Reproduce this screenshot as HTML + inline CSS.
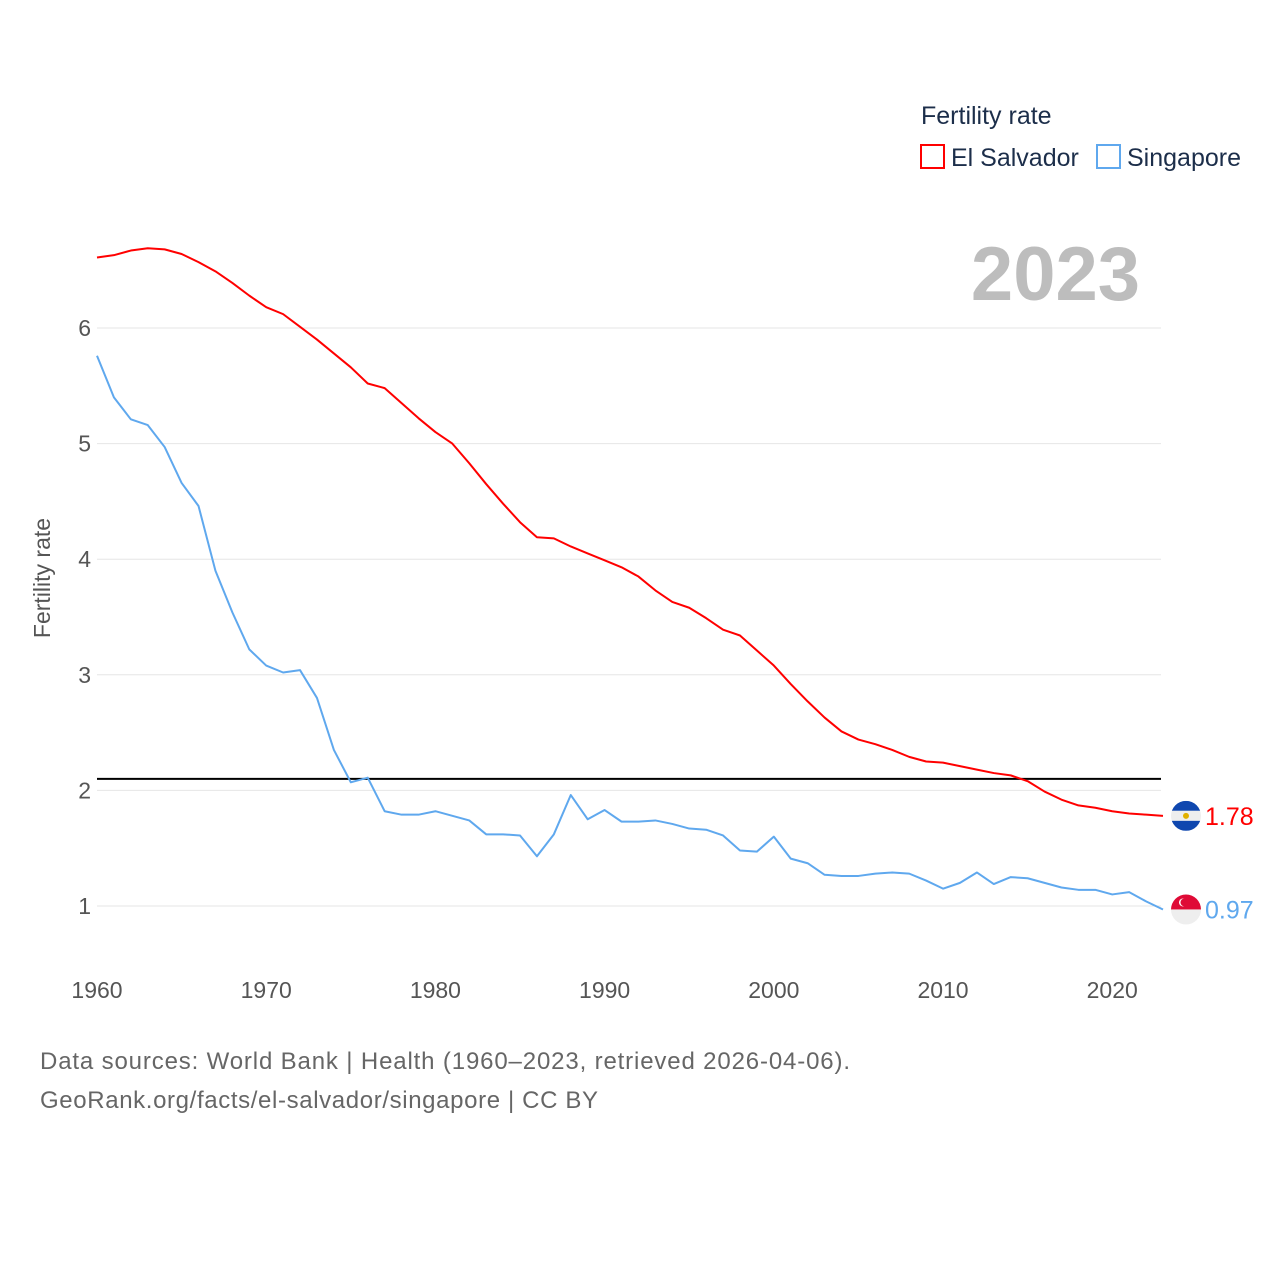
<!DOCTYPE html>
<html><head><meta charset="utf-8">
<style>
html,body{margin:0;padding:0;background:#fff;}
body{width:1280px;height:1280px;position:relative;overflow:hidden;font-family:"Liberation Sans",sans-serif;}
svg text{font-family:"Liberation Sans",sans-serif;}
</style></head>
<body>
<svg id="chart" width="1280" height="1280" xmlns="http://www.w3.org/2000/svg">
  <g id="grid"></g>
  <g id="yticks"></g>
  <g id="xticks"></g>
  <text transform="translate(50,578) rotate(-90)" text-anchor="middle" font-size="23" fill="#555">Fertility rate</text>
  <text x="1140" y="300" text-anchor="end" font-size="76" font-weight="bold" fill="#bdbdbd">2023</text>
  <g>
    <text x="921" y="124" font-size="25" fill="#1c2e4a">Fertility rate</text>
    <rect x="921" y="145" width="23" height="23" fill="none" stroke="#ff0000" stroke-width="2"/>
    <text x="951" y="166" font-size="25" fill="#1c2e4a">El Salvador</text>
    <rect x="1097" y="145" width="23" height="23" fill="none" stroke="#5fa8ee" stroke-width="2"/>
    <text x="1127" y="166" font-size="25" fill="#1c2e4a">Singapore</text>
  </g>
  <g id="series"></g>
  <g id="ends"></g>
  <text x="40" y="1069" font-size="24" fill="#666" textLength="810" lengthAdjust="spacing">Data sources: World Bank | Health (1960–2023, retrieved 2026-04-06).</text>
  <text x="40" y="1108" font-size="24" fill="#666" textLength="558" lengthAdjust="spacing">GeoRank.org/facts/el-salvador/singapore | CC BY</text>
</svg>
<script>
const years = [];for(let y=1960;y<=2023;y++)years.push(y);
const elSalvador = [6.61,6.63,6.67,6.69,6.68,6.64,6.57,6.49,6.39,6.28,6.18,6.12,6.01,5.90,5.78,5.66,5.52,5.48,5.35,5.22,5.10,5.00,4.83,4.65,4.48,4.32,4.19,4.18,4.11,4.05,3.99,3.93,3.85,3.73,3.63,3.58,3.49,3.39,3.34,3.21,3.08,2.92,2.77,2.63,2.51,2.44,2.40,2.35,2.29,2.25,2.24,2.21,2.18,2.15,2.13,2.08,1.99,1.92,1.87,1.85,1.82,1.80,1.79,1.78];
const singapore = [5.76,5.40,5.21,5.16,4.97,4.66,4.46,3.90,3.54,3.22,3.08,3.02,3.04,2.80,2.35,2.07,2.11,1.82,1.79,1.79,1.82,1.78,1.74,1.62,1.62,1.61,1.43,1.62,1.96,1.75,1.83,1.73,1.73,1.74,1.71,1.67,1.66,1.61,1.48,1.47,1.60,1.41,1.37,1.27,1.26,1.26,1.28,1.29,1.28,1.22,1.15,1.20,1.29,1.19,1.25,1.24,1.20,1.16,1.14,1.14,1.10,1.12,1.04,0.97];
const yTicks = [1,2,3,4,5,6];
const xTicks = [1960,1970,1980,1990,2000,2010,2020];
const replacementRate = 2.1;

const NS="http://www.w3.org/2000/svg";
const xS = y => 97 + (y-1960)*(1163-97)/63;
const yS = v => 1021.6 - v*115.6;
function mk(tag,attrs,parent){const e=document.createElementNS(NS,tag);for(const k in attrs)e.setAttribute(k,attrs[k]);parent.appendChild(e);return e;}
const grid=document.getElementById('grid'),yt=document.getElementById('yticks'),xt=document.getElementById('xticks'),ser=document.getElementById('series'),ends=document.getElementById('ends');
yTicks.forEach(v=>{
  const l=mk('line',{x1:97,x2:1161,y1:yS(v),y2:yS(v),stroke:'#e6e6e6','stroke-width':1},grid);
  
  
  const t=mk('text',{x:91,y:yS(v)+8,'text-anchor':'end','font-size':23,fill:'#555'},yt);
  t.textContent=v;
  
  
});
xTicks.forEach(v=>{
  const t=mk('text',{x:xS(v),y:998,'text-anchor':'middle','font-size':23,fill:'#555'},xt);
  t.textContent=v;
  
  
});
const ref=mk('line',{x1:97,x2:1161,y1:yS(replacementRate),y2:yS(replacementRate),stroke:'#000','stroke-width':2},ser);


function line(vals,color,name){
  const p=mk('polyline',{points:vals.map((v,i)=>xS(years[i])+','+yS(v)).join(' '),fill:'none',stroke:color,'stroke-width':2,'stroke-linejoin':'round'},ser);
  
  
}
line(singapore,'#5fa8ee','singapore-line');
line(elSalvador,'#ff0000','el-salvador-line');
function endLabel(vals,color,name,flag){
  const v=vals[vals.length-1],cy=yS(v),cx=1186,r=15;
  const g=mk('g',{},ends);
  
  
  const id='clip'+name;
  const cp=mk('clipPath',{id:id},g);mk('circle',{cx:cx,cy:cy,r:r},cp);
  const inner=mk('g',{'clip-path':'url(#'+id+')'},g);
  if(flag==='sv'){
    mk('rect',{x:cx-r,y:cy-r,width:2*r,height:2*r/3,fill:'#0f47af'},inner);
    mk('rect',{x:cx-r,y:cy-r/3,width:2*r,height:2*r/3,fill:'#eeeeee'},inner);
    mk('rect',{x:cx-r,y:cy+r/3,width:2*r,height:2*r/3,fill:'#0f47af'},inner);
    mk('circle',{cx:cx,cy:cy,r:3,fill:'#e0b000'},inner);
  } else {
    mk('rect',{x:cx-r,y:cy-r,width:2*r,height:r,fill:'#df0a36'},inner);
    mk('rect',{x:cx-r,y:cy,width:2*r,height:r,fill:'#eeeeee'},inner);
    mk('circle',{cx:cx-3,cy:cy-7,r:4,fill:'#fff'},inner);
    mk('circle',{cx:cx-1.5,cy:cy-7,r:4,fill:'#df0a36'},inner);
  }
  const t=mk('text',{x:1205,y:cy+9,'font-size':25,fill:color},ends);
  t.textContent=v.toFixed(2);
  
  
}
endLabel(elSalvador,'#ff0000','el-salvador','sv');
endLabel(singapore,'#5fa8ee','singapore','sg');
</script>
</body></html>
